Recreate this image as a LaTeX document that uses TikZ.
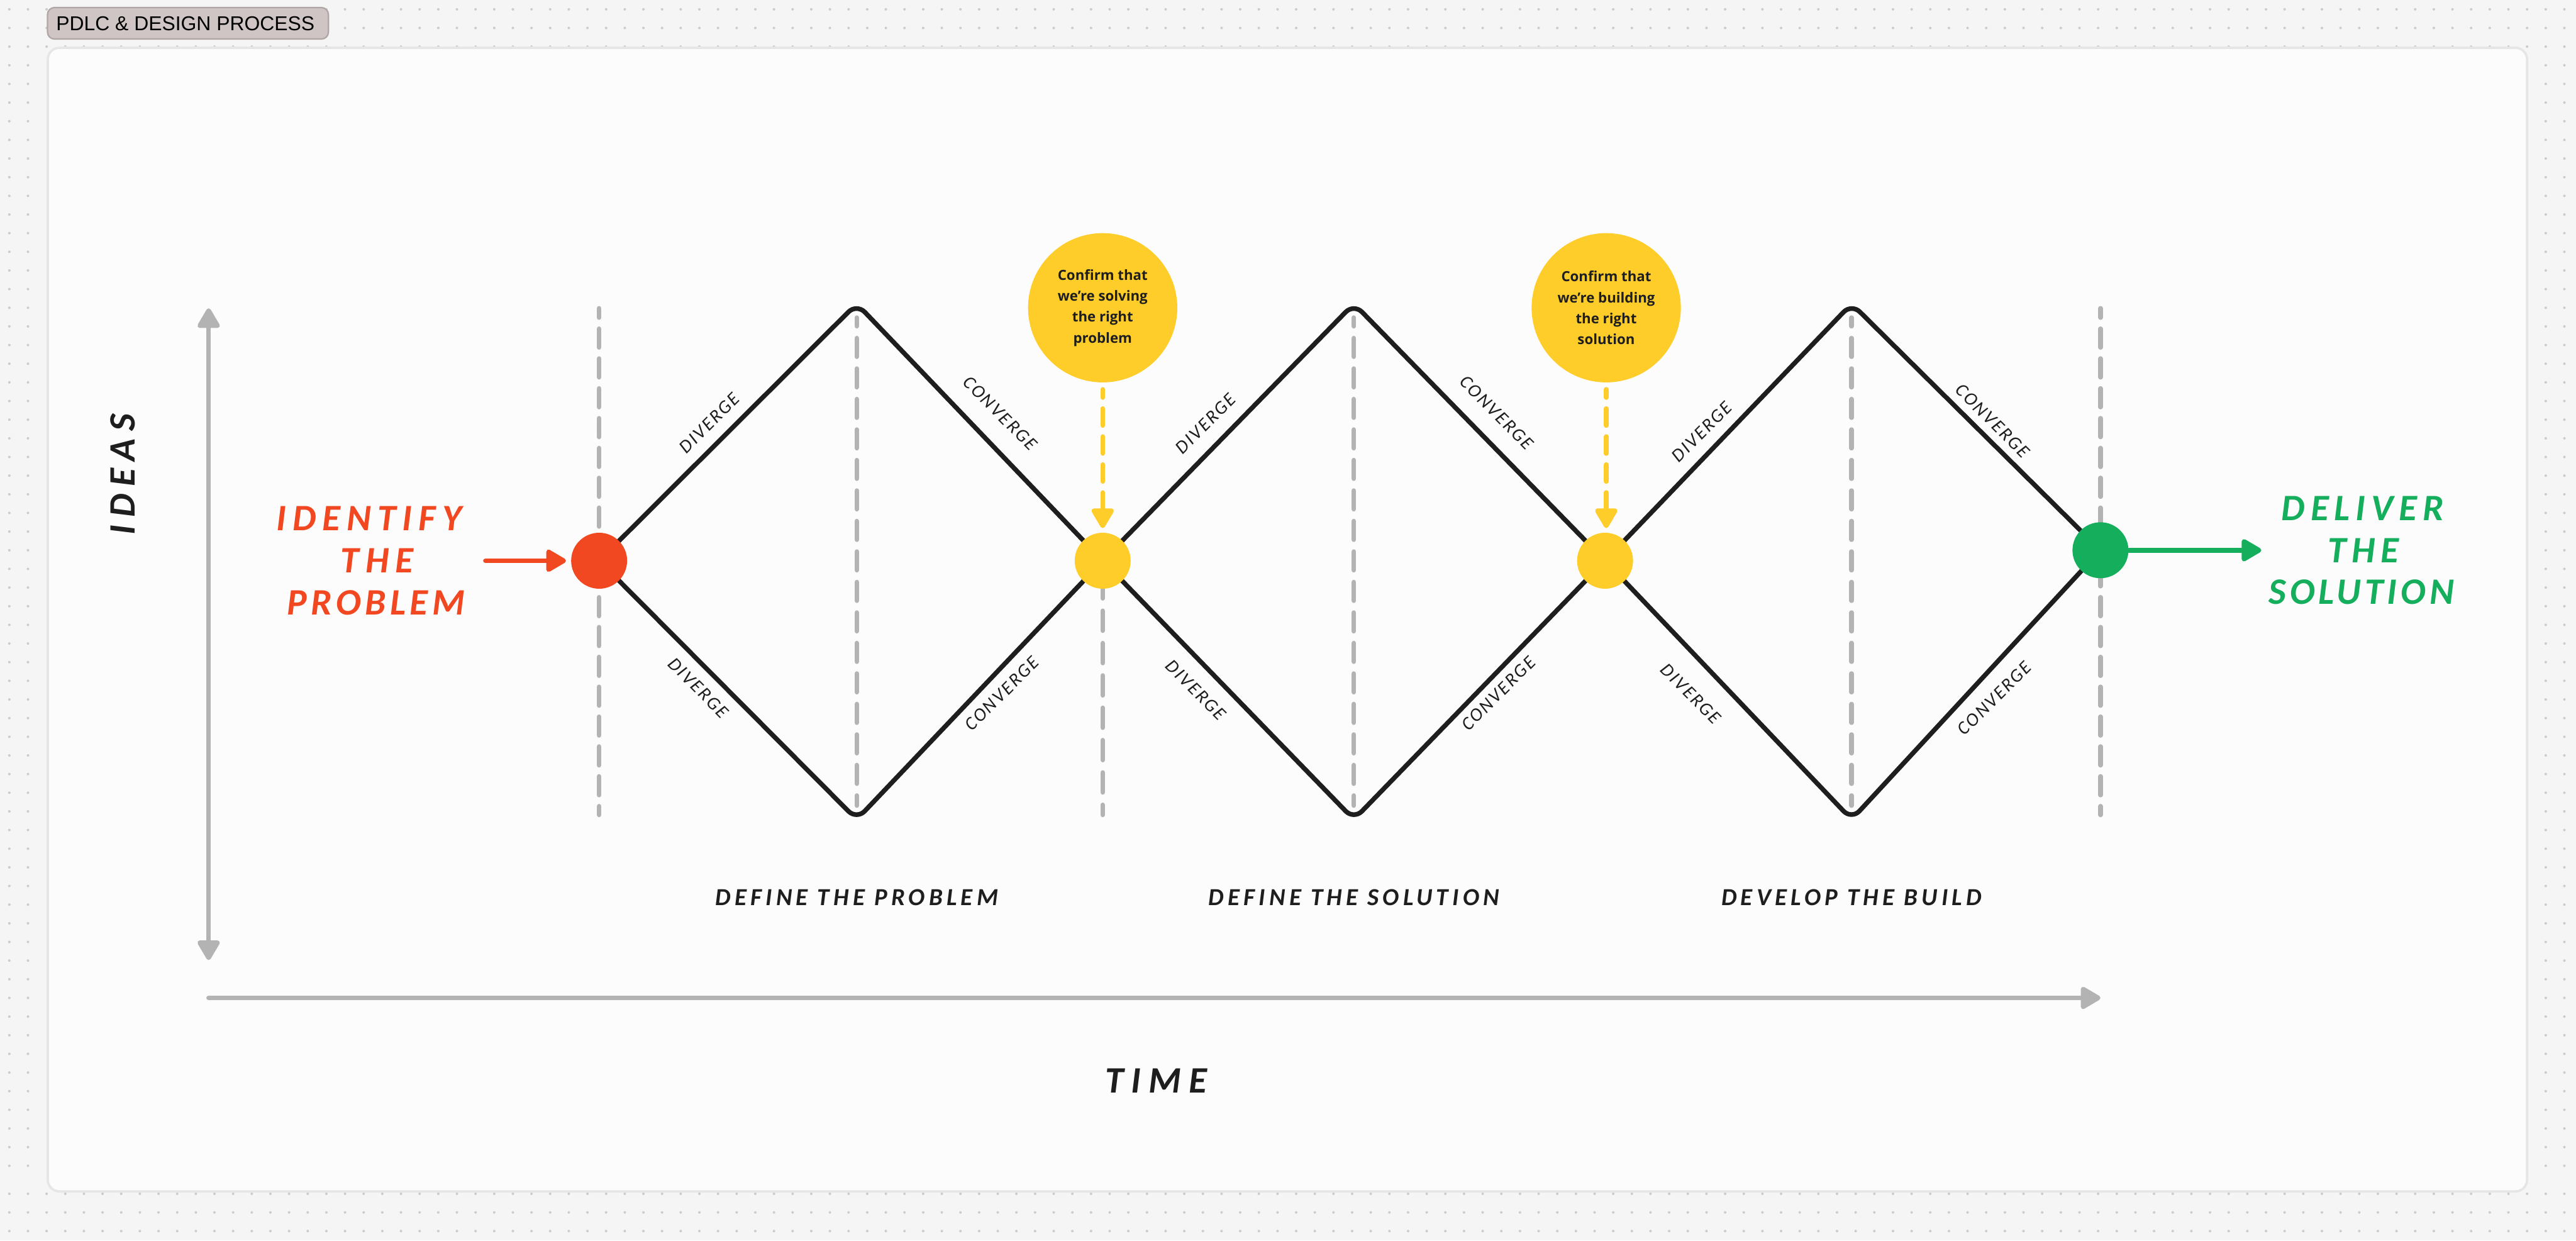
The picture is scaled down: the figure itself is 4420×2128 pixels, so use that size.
\documentclass[tikz,border=0pt]{standalone}
\usepackage{fontspec}
\usetikzlibrary{arrows.meta}
\setmainfont{Liberation Sans}
\newfontfamily\handfont{Carlito}
\newfontfamily\bubblefont{Open Sans}
\newcommand{\lsp}[1]{\addfontfeature{LetterSpace=#1}}
\pgfdeclarelayer{back}
\pgfdeclarelayer{conn}
\pgfsetlayers{back,conn,main}
\definecolor{pagebg}{HTML}{F5F5F5}
\definecolor{griddot}{HTML}{CCCCCC}
\definecolor{panelfill}{HTML}{FCFCFC}
\definecolor{panelline}{HTML}{E6E6E6}
\definecolor{tagfill}{HTML}{CFC5C5}
\definecolor{tagline}{HTML}{B0A5A5}
\definecolor{axisgrey}{HTML}{B3B3B3}
\definecolor{inkblack}{HTML}{1E1E1E}
\definecolor{fyellow}{HTML}{FFCD29}
\definecolor{fred}{HTML}{F24822}
\definecolor{fgreen}{HTML}{14AE5C}
\tikzset{
  x=0.25pt,y=-0.25pt,
  tiphead/.tip={Triangle[length=9.5pt,width=10.5pt,round]},
  griddotstyle/.style={griddot,fill,draw=none},
  procdot/.style={circle,minimum size=24pt,inner sep=0pt,draw=none},
  bubble/.style={circle,fill=fyellow,minimum size=64pt,inner sep=0pt,align=center,text=inkblack,
    font=\bubblefont\fontsize{6}{9}\selectfont\bfseries},
  diamondline/.style={draw=inkblack,line width=2pt,rounded corners=5pt,line join=round},
  guideline/.style={draw=axisgrey,line width=2pt,line cap=round},
  guideouter/.style={guideline,dash pattern=on 8pt off 4.8pt,dash phase=4.05pt},
  guideapex/.style={guideline,dash pattern=on 7.95pt off 5.13pt,dash phase=4.3pt},
  guideyellow/.style={guideline,dash pattern=on 8.5pt off 5.37pt,dash phase=6.25pt},
  gatherline/.style={draw=fyellow,line width=2pt,line cap=round,dash pattern=on 7.25pt off 4.75pt,dash phase=3.75pt,-{tiphead[fill=fyellow,sep=0pt]}},
  axisline/.style={draw=axisgrey,line width=2pt,line cap=round},
  flowarrow/.style={line width=2pt,line cap=round,-tiphead},
  smalllabel/.style={text=inkblack,font=\handfont\lsp{9}\itshape\fontsize{8}{9}\selectfont,inner sep=0pt},
  stagelabel/.style={text=inkblack,font=\handfont\lsp{16}\itshape\bfseries\fontsize{10.5}{12}\selectfont,inner sep=0pt},
  axislabel/.style={text=inkblack,font=\handfont\lsp{20}\itshape\bfseries\fontsize{16}{18}\selectfont,inner sep=0pt},
  biglabel/.style={font=\handfont\lsp{#1}\itshape\bfseries\fontsize{16}{18}\selectfont,inner sep=0pt,align=center},
}
\begin{document}
\begin{tikzpicture}
\useasboundingbox (0,0) rectangle (4420,2128);
\begin{pgfonlayer}{back}
\fill[pagebg] (0,0) rectangle (4420,2128);
\foreach \yy in {16,48,80,2048,2080,2112}
  \foreach \xx in {16,48,80,112,...,4400}
    \fill[griddotstyle] (\xx,\yy) circle (0.55pt);
\foreach \yy in {112,144,...,2016}
  \foreach \xx in {16,48,4368,4400}
    \fill[griddotstyle] (\xx,\yy) circle (0.55pt);
\filldraw[fill=panelfill,draw=panelline,line width=1pt,rounded corners=5pt] (82,82) rectangle (4336,2044);
\end{pgfonlayer}

% title tag
\node[draw=tagline,fill=tagfill,line width=0.6pt,rounded corners=3pt,minimum width=120.5pt,minimum height=13.5pt,inner sep=0pt,
  font=\fontsize{8.6}{11}\selectfont,text=black] (tag) at (322.5,40) {\kern-2.2pt PDLC \& DESIGN PROCESS};

% process points
\node[procdot,fill=fred] (red) at (1028,962) {};
\node[procdot,fill=fyellow] (yone) at (1892,962) {};
\node[procdot,fill=fyellow] (ytwo) at (2754,962) {};
\node[procdot,fill=fgreen] (green) at (3604,944) {};

% gates
\node[bubble] (gateone) at (1892,528) {Confirm that\\we’re solving\\the right\\problem};
\node[bubble] (gatetwo) at (2756,528) {Confirm that\\we’re building\\the right\\solution};

% diamond corners and free ends
\coordinate (topa) at (1470,521);
\coordinate (bota) at (1470,1406);
\coordinate (topb) at (2323,521);
\coordinate (botb) at (2323,1406);
\coordinate (topc) at (3177,521);
\coordinate (botc) at (3177,1406);
\coordinate (guideredtop) at (1028,529);
\coordinate (guideredbot) at (1028,1398);
\coordinate (guideatop) at (1470,545);
\coordinate (guideabot) at (1470,1382);
\coordinate (guideybot) at (1892,1398);
\coordinate (guidebtop) at (2323,545);
\coordinate (guidebbot) at (2323,1382);
\coordinate (guidectop) at (3177,545);
\coordinate (guidecbot) at (3177,1382);
\coordinate (guidegrtop) at (3604,529);
\coordinate (guidegrbot) at (3604,1398);
\coordinate (yarrowa) at (1892,906);
\coordinate (yarrowb) at (2756,906);
\coordinate (yarrowastart) at (1892,668);
\coordinate (yarrowbstart) at (2756,668);
\coordinate (redstart) at (833,962);
\coordinate (redend) at (971,962);
\coordinate (greenend) at (3880,944);
\coordinate (axvt) at (358,529);
\coordinate (axvb) at (358,1647);
\coordinate (axho) at (358,1712);
\coordinate (axhe) at (3604,1712);

\begin{pgfonlayer}{conn}
\draw[guideouter] (guideredtop) -- (guideredbot);
\draw[guideapex] (guideatop) -- (guideabot);
\draw[guideyellow] (yone.center) -- (guideybot);
\draw[guideapex] (guidebtop) -- (guidebbot);
\draw[guideapex] (guidectop) -- (guidecbot);
\draw[guideouter] (guidegrtop) -- (guidegrbot);
\draw[diamondline] (red.center) -- (topa) -- (yone.center) -- (bota) -- cycle;
\draw[diamondline] (yone.center) -- (topb) -- (ytwo.center) -- (botb) -- cycle;
\draw[diamondline] (ytwo.center) -- (topc) -- (green.center) -- (botc) -- cycle;
\end{pgfonlayer}

\draw[gatherline] (yarrowastart) -- (yarrowa);
\draw[gatherline] (yarrowbstart) -- (yarrowb);
\draw[flowarrow,draw=fred] (redstart) -- (redend);
\draw[flowarrow,draw=fgreen] (green.east) -- (greenend);
\draw[axisline,tiphead-tiphead,line cap=butt] (axvt) -- (axvb);
\draw[axisline,-tiphead] (axho) -- (axhe);

% labels
\node[smalllabel,rotate=45] (da) at (1217,726) {DIVERGE};
\node[smalllabel,rotate=-45] (ca) at (1716,709) {CONVERGE};
\node[smalllabel,rotate=-45] (db) at (1198,1180) {DIVERGE};
\node[smalllabel,rotate=45] (cb) at (1719,1190) {CONVERGE};
\node[smalllabel,rotate=45] (dc) at (2069,727) {DIVERGE};
\node[smalllabel,rotate=-45] (cc) at (2568,708) {CONVERGE};
\node[smalllabel,rotate=-45] (dd) at (2052,1184) {DIVERGE};
\node[smalllabel,rotate=45] (cd) at (2571,1190) {CONVERGE};
\node[smalllabel,rotate=45] (de) at (2920,741) {DIVERGE};
\node[smalllabel,rotate=-45] (ce) at (3419,722) {CONVERGE};
\node[smalllabel,rotate=-45] (df) at (2901,1190) {DIVERGE};
\node[smalllabel,rotate=45] (cf) at (3422,1198) {CONVERGE};

\node[stagelabel] (sa) at (1470,1540) {DEFINE THE PROBLEM};
\node[stagelabel] (sb) at (2323,1540) {DEFINE THE SOLUTION};
\node[stagelabel] (sc) at (3177,1540) {DEVELOP THE BUILD};
\node[axislabel] (time) at (1984,1854) {TIME};
\node[axislabel,rotate=90] (ideas) at (211,814) {IDEAS};
\node[biglabel=17,text=fred] (ia) at (633,890) {IDENTIFY};
\node[biglabel=17,text=fred] (ib) at (647,962) {THE};
\node[biglabel=11,text=fred] (ic) at (645,1034) {PROBLEM};
\node[biglabel=15,text=fgreen] (ga) at (4054,872) {DELIVER};
\node[biglabel=15,text=fgreen] (gb) at (4055,944) {THE};
\node[biglabel=10,text=fgreen] (gc) at (4052,1016) {SOLUTION};
\end{tikzpicture}
\end{document}
